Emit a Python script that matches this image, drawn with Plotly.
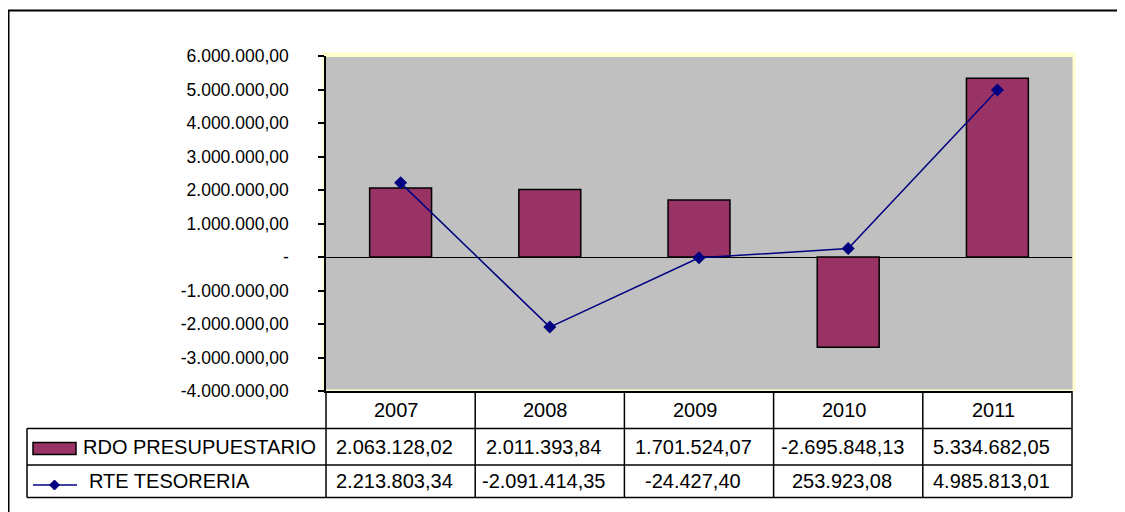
import plotly.graph_objects as go

years = ["2007", "2008", "2009", "2010", "2011"]
rdo_presupuestario = [2063128.02, 2011393.84, 1701524.07, -2695848.13, 5334682.05]
rte_tesoreria = [2213803.34, -2091414.35, -24427.40, 253923.08, 4985813.01]
series_names = ["RDO PRESUPUESTARIO", "RTE TESORERIA"]
y_tick_vals = [6e6, 5e6, 4e6, 3e6, 2e6, 1e6, 0, -1e6, -2e6, -3e6, -4e6]
y_tick_text = ["6.000.000,00", "5.000.000,00", "4.000.000,00", "3.000.000,00",
               "2.000.000,00", "1.000.000,00", "-", "-1.000.000,00",
               "-2.000.000,00", "-3.000.000,00", "-4.000.000,00"]

OFF = 8  # page body margin offset
W, H = 1125, 512 - OFF
# reference pixel geometry of the plot area
PX_L, PX_R, PX_T, PX_B = 326, 1072, 56, 391
ML = PX_L - OFF
MT = PX_T - OFF
MR = W - (PX_R - OFF)
MB = H - (PX_B - OFF)
PW = PX_R - PX_L
PH = PX_B - PX_T

def xp(px):
    return (px - PX_L) / PW

def yp(py):
    return (PX_B - py) / PH

def fmt_es(v):
    s = f"{v:,.2f}"
    return s.replace(",", "#").replace(".", ",").replace("#", ".")

BAR_COLOR = "#993366"
LINE_COLOR = "#000080"
FONT = "Liberation Sans, Arial, sans-serif"

fig = go.Figure()
fig.add_trace(go.Bar(
    x=years, y=rdo_presupuestario, name=series_names[0],
    marker=dict(color=BAR_COLOR, line=dict(color="black", width=1.5)),
    width=0.415, showlegend=False,
))
fig.add_trace(go.Scatter(
    x=years, y=rte_tesoreria, name=series_names[1], mode="lines+markers",
    line=dict(color=LINE_COLOR, width=1.5),
    marker=dict(symbol="diamond", size=10, color=LINE_COLOR),
    showlegend=False,
))

shapes = []
# yellow plot-area border, then gray plot area (both below traces)
shapes.append(dict(type="rect", xref="paper", yref="paper",
                   x0=xp(322.5), x1=xp(1075.5), y0=yp(391), y1=yp(52.5),
                   fillcolor="#FFFFCC", line=dict(width=0), layer="below"))
shapes.append(dict(type="rect", xref="paper", yref="paper",
                   x0=xp(326), x1=xp(1072.5), y0=yp(389.5), y1=yp(57),
                   fillcolor="#C0C0C0", line=dict(width=0), layer="below"))
# outer chart border
shapes.append(dict(type="rect", xref="paper", yref="paper",
                   x0=xp(8.5), x1=xp(1128), y0=yp(540), y1=yp(10.5),
                   line=dict(color="black", width=2), fillcolor="rgba(0,0,0,0)"))

# table geometry
n = len(years)
col_w = PW / n
row_lines = [428.5, 465, 497.5]
table_left = 27
top = PX_B
for i in range(n + 1):
    cx = PX_L + i * col_w
    shapes.append(dict(type="line", xref="paper", yref="paper",
                       x0=xp(cx), x1=xp(cx), y0=yp(top), y1=yp(row_lines[-1]),
                       line=dict(color="black", width=1.5)))
shapes.append(dict(type="line", xref="paper", yref="paper",
                   x0=xp(table_left), x1=xp(table_left), y0=yp(row_lines[0]), y1=yp(row_lines[-1]),
                   line=dict(color="black", width=1.5)))
for ry in row_lines:
    shapes.append(dict(type="line", xref="paper", yref="paper",
                       x0=xp(table_left), x1=xp(PX_R), y0=yp(ry), y1=yp(ry),
                       line=dict(color="black", width=1.5)))

# legend keys
shapes.append(dict(type="rect", xref="paper", yref="paper",
                   x0=xp(33), x1=xp(76), y0=yp(454.5), y1=yp(442.5),
                   fillcolor=BAR_COLOR, line=dict(color="black", width=1.5)))
shapes.append(dict(type="line", xref="paper", yref="paper",
                   x0=xp(33), x1=xp(77), y0=yp(485), y1=yp(485),
                   line=dict(color=LINE_COLOR, width=1.5)))
dx, dy = 5, 5
cx, cy = 54.5, 485
path = (f"M {xp(cx)},{yp(cy - dy)} L {xp(cx + dx)},{yp(cy)} "
        f"L {xp(cx)},{yp(cy + dy)} L {xp(cx - dx)},{yp(cy)} Z")
shapes.append(dict(type="path", xref="paper", yref="paper", path=path,
                   fillcolor=LINE_COLOR, line=dict(color=LINE_COLOR, width=1)))

annotations = []
row_centers = [(top + row_lines[0]) / 2, (row_lines[0] + row_lines[1]) / 2,
               (row_lines[1] + row_lines[2]) / 2]
tfont = dict(family=FONT, size=20, color="black")
for i, yr in enumerate(years):
    annotations.append(dict(x=i, xref="x", y=yp(row_centers[0]), yref="paper",
                            text=yr, showarrow=False, font=tfont, xshift=-4,
                            xanchor="center", yanchor="middle"))
    annotations.append(dict(x=i, xref="x", y=yp(row_centers[1]), yref="paper",
                            text=fmt_es(rdo_presupuestario[i]), showarrow=False, font=tfont,
                            xshift=-6, xanchor="center", yanchor="middle"))
    annotations.append(dict(x=i, xref="x", y=yp(row_centers[2]), yref="paper",
                            text=fmt_es(rte_tesoreria[i]), showarrow=False, font=tfont,
                            xshift=-6, xanchor="center", yanchor="middle"))
annotations.append(dict(x=xp(81), xref="paper", y=yp(row_centers[1]), yref="paper",
                        text=series_names[0], showarrow=False, font=tfont,
                        xanchor="left", yanchor="middle"))
annotations.append(dict(x=xp(87), xref="paper", y=yp(row_centers[2]), yref="paper",
                        text=series_names[1], showarrow=False, font=tfont,
                        xanchor="left", yanchor="middle"))

fig.update_layout(
    width=W, height=H,
    margin=dict(l=ML, r=MR, t=MT, b=MB, pad=0),
    paper_bgcolor="white", plot_bgcolor="rgba(0,0,0,0)",
    font=dict(family=FONT, color="black"),
    shapes=shapes, annotations=annotations,
    xaxis=dict(type="category", categoryorder="array", categoryarray=years,
               range=[-0.5, n - 0.5], showticklabels=False, ticks="",
               showgrid=False, zeroline=False, showline=True,
               linecolor="black", linewidth=1.5, fixedrange=True),
    yaxis=dict(range=[-4e6, 6e6], tickvals=y_tick_vals, ticktext=y_tick_text,
               ticks="outside", ticklen=6, tickwidth=1.5, tickcolor="black",
               tickfont=dict(family=FONT, size=17.5, color="black"),
               ticklabelstandoff=26,
               showgrid=False, zeroline=True, zerolinecolor="black", zerolinewidth=1.2,
               showline=True, linecolor="black", linewidth=1.5, fixedrange=True),
    yaxis2=dict(range=[-4e6, 6e6], overlaying="y", side="left",
                tickvals=y_tick_vals, ticks="inside", ticklen=5, tickwidth=1.5,
                tickcolor="black", showticklabels=False, showgrid=False,
                zeroline=False, showline=False, fixedrange=True),
)

fig.write_html("out.html")
